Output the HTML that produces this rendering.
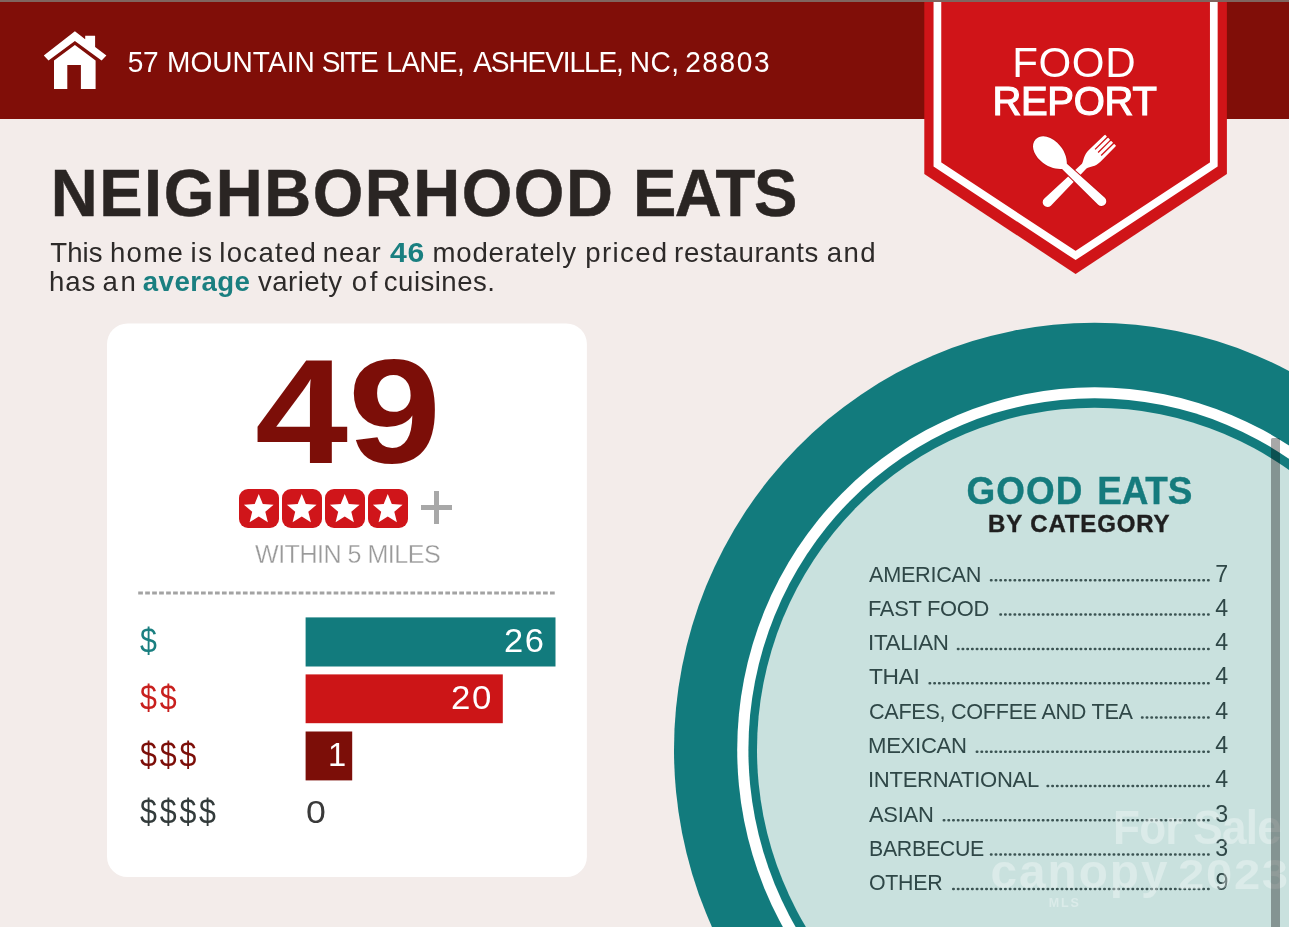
<!DOCTYPE html>
<html lang="en">
<head>
<meta charset="utf-8">
<title>Neighborhood Eats - Food Report</title>
<style>
*{margin:0;padding:0;box-sizing:border-box}
html,body{width:1289px;height:927px;overflow:hidden;background:#f3ecea}
body{font-family:"Liberation Sans",Arial,Helvetica,sans-serif;position:relative;color:#2b2624}
.abs{position:absolute;white-space:nowrap;line-height:1;transform-origin:0 50%}
svg{position:absolute;overflow:visible}
#topline{position:absolute;left:0;top:0;width:1289px;height:2px;background:#80655f}
#header{position:absolute;left:0;top:2px;width:1289px;height:116.7px;background:#800e08}
#addr{color:#fff}
#title{font-weight:bold;color:#2a2523;-webkit-text-stroke:0.5px #2a2523}
.para{color:#2d2a29}
.para b{color:#1a7f80}
#score{font-weight:bold;color:#7c0e08}
.star{position:absolute;top:489px;width:39.5px;height:38.7px;border-radius:9px;background:#d0151a}
.star svg{left:0;top:0}
#plus{position:absolute;left:420.8px;top:491.4px;width:31.7px;height:33px}
#plus:before{content:"";position:absolute;left:0;top:14px;width:31.7px;height:4.3px;background:#a8a8a8}
#plus:after{content:"";position:absolute;left:13.6px;top:0;width:4.5px;height:33px;background:#a8a8a8}
#within{color:#9a9a9a;-webkit-text-stroke:0.3px #fff}

.bn{color:#fff}
#scroll{position:absolute;left:1271px;top:438px;width:9px;height:500px;border-radius:1.5px 1.5px 0 0;background:rgba(0,0,0,.34)}
.cat{color:#2f4747}
.num{color:#2f4747}
#ge{font-weight:bold;color:#157b7d;-webkit-text-stroke:0.4px #157b7d}
#bc{font-weight:bold;color:#1f1f1f;-webkit-text-stroke:0.4px #1f1f1f}
.wm{color:rgba(255,255,255,.33);font-weight:bold}
#food{color:#fff}
#report{color:#fff;-webkit-text-stroke:1.2px #fff}
#addr{left:126.8px;top:48.0px;font-size:29.24px;letter-spacing:-0.30px;transform:scaleX(0.960)}
#title{left:54.3px;top:161.0px;font-size:65.90px;letter-spacing:-0.30px;transform:scaleX(0.986)}
#p1{left:50.2px;top:238.8px;font-size:27.60px;letter-spacing:0.45px}
#p2{left:49.0px;top:267.5px;font-size:27.60px;letter-spacing:0.22px}
#food{left:1012.2px;top:41.8px;font-size:42.09px;letter-spacing:0.61px}
#report{left:992.4px;top:80.9px;font-size:40.00px;letter-spacing:-0.30px;transform:scaleX(1.000)}
#score{left:254.8px;top:337.8px;font-size:148.31px;letter-spacing:0.00px;transform:scaleX(1.129)}
#within{left:255.0px;top:542.1px;font-size:25.07px;letter-spacing:-0.50px}
#l1{left:139.8px;top:622.6px;font-size:35.98px;letter-spacing:3.30px;transform:scaleX(0.845)}
#l2{left:139.8px;top:679.6px;font-size:35.98px;letter-spacing:3.30px;transform:scaleX(0.845)}
#l3{left:139.8px;top:736.6px;font-size:35.98px;letter-spacing:3.30px;transform:scaleX(0.845)}
#l4{left:139.8px;top:793.6px;font-size:35.98px;letter-spacing:3.30px;transform:scaleX(0.845)}
#n26{left:504.4px;top:624.9px;font-size:32.31px;letter-spacing:1.50px;transform:scaleX(1.068)}
#n20{left:451.0px;top:681.9px;font-size:32.31px;letter-spacing:1.50px;transform:scaleX(1.079)}
#n1{left:328.1px;top:739.4px;font-size:32.66px;letter-spacing:0.00px}
#n0{left:306.4px;top:797.0px;font-size:31.96px;letter-spacing:0.00px;transform:scaleX(1.118)}
#ge{left:966.2px;top:472.2px;font-size:38.63px;letter-spacing:-0.34px;transform:scaleX(0.955)}
#bc{left:988.1px;top:512.2px;font-size:24.01px;letter-spacing:0.85px}
#c1{left:869.4px;top:564.3px;font-size:22.40px;letter-spacing:-0.30px;transform:scaleX(0.968)}
#m1{left:1215.3px;top:563.3px;font-size:23.20px;letter-spacing:0.00px}
#c2{left:868.2px;top:598.1px;font-size:22.40px;letter-spacing:-0.30px;transform:scaleX(0.978)}
#m2{left:1215.3px;top:597.1px;font-size:23.20px;letter-spacing:0.00px}
#c3{left:868.1px;top:631.9px;font-size:22.40px;letter-spacing:-0.30px;transform:scaleX(0.998)}
#m3{left:1215.3px;top:630.9px;font-size:23.20px;letter-spacing:0.00px}
#c4{left:868.9px;top:665.7px;font-size:22.40px;letter-spacing:-0.30px;transform:scaleX(1.016)}
#m4{left:1215.3px;top:664.7px;font-size:23.20px;letter-spacing:0.00px}
#c5{left:869.0px;top:701.4px;font-size:22.40px;letter-spacing:-0.30px;transform:scaleX(0.965)}
#m5{left:1215.3px;top:700.4px;font-size:23.20px;letter-spacing:0.00px}
#c6{left:868.2px;top:735.2px;font-size:22.40px;letter-spacing:-0.30px;transform:scaleX(0.988)}
#m6{left:1215.3px;top:734.2px;font-size:23.20px;letter-spacing:0.00px}
#c7{left:867.6px;top:769.0px;font-size:22.40px;letter-spacing:-0.30px;transform:scaleX(0.985)}
#m7{left:1215.3px;top:768.0px;font-size:23.20px;letter-spacing:0.00px}
#c8{left:869.3px;top:803.7px;font-size:22.40px;letter-spacing:-0.30px;transform:scaleX(0.981)}
#m8{left:1215.3px;top:802.7px;font-size:23.20px;letter-spacing:0.00px}
#c9{left:868.5px;top:837.5px;font-size:22.40px;letter-spacing:-0.30px;transform:scaleX(0.952)}
#m9{left:1215.3px;top:836.5px;font-size:23.20px;letter-spacing:0.00px}
#c10{left:869.0px;top:872.3px;font-size:22.40px;letter-spacing:-0.30px;transform:scaleX(0.953)}
#m10{left:1215.5px;top:871.3px;font-size:23.20px;letter-spacing:0.00px}
#w1{left:1112.7px;top:804.4px;font-size:48.00px;letter-spacing:-0.80px;transform:scaleX(0.918)}
#w2{left:990.5px;top:848.0px;font-size:47.70px;letter-spacing:2.00px}
#w4{left:1177.8px;top:854.0px;font-size:42.00px;letter-spacing:1.50px;transform:scaleX(1.124)}
#w3{left:1048.7px;top:896.8px;font-size:12.50px;letter-spacing:1.88px}
.wl{left:0 !important;letter-spacing:0 !important}
.wl span{position:absolute;top:0}
</style>
</head>
<body>
<div id="topline"></div>
<div id="header"></div>

<svg id="house" width="70" height="64" viewBox="0 0 70 64" style="left:40px;top:28px">
  <path fill="#fff" d="M34.9 3.2 L45.2 11.3 V7.8 H55.1 V19 L66.4 27.6 L61.6 32.5 L34.9 13.1 L8.5 32.5 L3.8 27.6 Z"/>
  <path fill="#fff" d="M34.9 17 L55.6 32.5 V61 H40.9 V36.9 H27.3 V61 H14 V32.5 Z"/>
</svg>
<div id="addr" class="abs wl"><span style="left:133.0px;letter-spacing:-0.21px">57</span> <span style="left:174.0px;letter-spacing:0.02px">MOUNTAIN</span> <span style="left:335.1px;letter-spacing:-1.87px">SITE</span> <span style="left:402.4px;letter-spacing:-0.70px">LANE,</span> <span style="left:492.9px;letter-spacing:-1.16px">ASHEVILLE,</span> <span style="left:655.9px;letter-spacing:0.56px">NC,</span> <span style="left:713.7px;letter-spacing:1.69px">28803</span></div>

<div id="title" class="abs wl"><span style="left:51.4px;letter-spacing:1.58px">NEIGHBORHOOD</span> <span style="left:641.9px;letter-spacing:-1.40px">EATS</span></div>
<div id="p1" class="abs wl para"><span style="left:50.3px;letter-spacing:0.02px">This</span> <span style="left:109.9px;letter-spacing:1.33px">home</span> <span style="left:190.6px;letter-spacing:1.52px">is</span> <span style="left:219.3px;letter-spacing:1.27px">located</span> <span style="left:322.7px;letter-spacing:0.91px">near</span> <span style="left:389.6px;letter-spacing:0.6px;transform:scaleX(1.093);transform-origin:0 50%"><b>46</b></span> <span style="left:432.5px;letter-spacing:0.78px">moderately</span> <span style="left:585.3px;letter-spacing:1.35px">priced</span> <span style="left:674.1px;letter-spacing:0.61px">restaurants</span> <span style="left:826.8px;letter-spacing:1.34px">and</span></div>
<div id="p2" class="abs wl para"><span style="left:49.0px;letter-spacing:0.93px">has</span> <span style="left:102.6px;letter-spacing:2.51px">an</span> <span style="left:142.8px;letter-spacing:0.47px"><b>average</b></span> <span style="left:258.0px;letter-spacing:0.45px">variety</span> <span style="left:351.7px;letter-spacing:2.76px">of</span> <span style="left:383.8px;letter-spacing:0.47px">cuisines.</span></div>

<!-- ribbon -->
<svg id="ribbon" width="320" height="280" viewBox="0 0 320 280" style="left:916px;top:0">
  <path fill="#d01418" d="M8.3 2 H310.9 V174 L159.6 274 L8.3 174 Z"/>
  <path fill="none" stroke="#fff" stroke-width="7.7" stroke-linejoin="miter" d="M21.4 2 V164.5 L159.6 255.5 L297.8 164.5 V2"/>
  <g transform="translate(194.6 140.2) rotate(45.5)"><path fill="#fff" d="M-8.00 1 L-7.70 0 L-5.30 0 L-5.00 1 L-5.00 17.5 L-3.67 17.5 L-3.67 1 L-3.37 0 L-0.97 0 L-0.67 1 L-0.67 17.5 L0.66 17.5 L0.66 1 L0.96 0 L3.36 0 L3.66 1 L3.66 17.5 L4.99 17.5 L4.99 1 L5.29 0 L7.69 0 L7.99 1 L8.3 22 C8.3 30 4.5 33 3.2 37 L4.8 88.5 A4.8 4.8 0 0 1 -4.8 88.5 L-3.2 37 C-4.5 33 -8.3 30 -8.3 22 Z"/></g>
  <g transform="translate(119.7 139.3) rotate(-46.7)"><path fill="#fff" stroke="#c41216" stroke-width="2" paint-order="stroke" d="M0 0 C7.5 0 12.3 8 12.3 18 C12.3 28 8 35.5 3.5 39.5 L4.8 90.4 A4.8 4.8 0 0 1 -4.8 90.4 L-3.5 39.5 C-8 35.5 -12.3 28 -12.3 18 C-12.3 8 -7.5 0 0 0 Z"/></g>
</svg>
<div id="food" class="abs">FOOD</div>
<div id="report" class="abs">REPORT</div>

<!-- score card -->
<svg id="card" width="1289" height="927" viewBox="0 0 1289 927" style="left:0;top:0"><rect x="107" y="323.5" width="479.9" height="553.6" rx="20.5" fill="#fff"/></svg>
<div id="score" class="abs">49</div>
<div class="star" style="left:239.3px"><svg width="39.5" height="38.7" viewBox="0 0 39.5 38.7"><path fill="#fff" d="M19.75 5.00 L23.81 15.02 L34.59 15.78 L26.31 22.73 L28.92 33.22 L19.75 27.50 L10.58 33.22 L13.19 22.73 L4.91 15.78 L15.69 15.02 Z"/></svg></div>
<div class="star" style="left:282.1px"><svg width="39.5" height="38.7" viewBox="0 0 39.5 38.7"><path fill="#fff" d="M19.75 5.00 L23.81 15.02 L34.59 15.78 L26.31 22.73 L28.92 33.22 L19.75 27.50 L10.58 33.22 L13.19 22.73 L4.91 15.78 L15.69 15.02 Z"/></svg></div>
<div class="star" style="left:325.3px"><svg width="39.5" height="38.7" viewBox="0 0 39.5 38.7"><path fill="#fff" d="M19.75 5.00 L23.81 15.02 L34.59 15.78 L26.31 22.73 L28.92 33.22 L19.75 27.50 L10.58 33.22 L13.19 22.73 L4.91 15.78 L15.69 15.02 Z"/></svg></div>
<div class="star" style="left:368.2px"><svg width="39.5" height="38.7" viewBox="0 0 39.5 38.7"><path fill="#fff" d="M19.75 5.00 L23.81 15.02 L34.59 15.78 L26.31 22.73 L28.92 33.22 L19.75 27.50 L10.58 33.22 L13.19 22.73 L4.91 15.78 L15.69 15.02 Z"/></svg></div>
<div id="plus"></div>
<div id="within" class="abs">WITHIN 5 MILES</div>
<svg id="dash" width="1289" height="927" viewBox="0 0 1289 927" style="left:0;top:0"><line x1="138.2" y1="593.05" x2="556" y2="593.05" stroke="#a3a3a3" stroke-width="2.9" stroke-dasharray="4.7 2.28"/></svg>

<div id="l1" class="abs lbl" style="color:#1a7f80">$</div>
<div id="l2" class="abs lbl" style="color:#c8201e">$$</div>
<div id="l3" class="abs lbl" style="color:#7c0e08">$$$</div>
<div id="l4" class="abs lbl" style="color:#333b3b">$$$$</div>
<svg id="bars" width="1289" height="927" viewBox="0 0 1289 927" style="left:0;top:0">
  <rect x="305.6" y="617.4" width="249.9" height="49.1" fill="#127b7d"/>
  <rect x="305.6" y="674.4" width="197.2" height="48.8" fill="#cc1517"/>
  <rect x="305.6" y="731.5" width="46.6" height="48.9" fill="#7c0e08"/>
</svg>
<div id="n26" class="abs bn">26</div>
<div id="n20" class="abs bn">20</div>
<div id="n1" class="abs bn">1</div>
<div id="n0" class="abs bn" style="color:#3a3a3a">0</div>

<!-- plate -->
<svg id="plate" width="1289" height="927" viewBox="0 0 1289 927" style="left:0;top:0">
  <ellipse cx="1094.6" cy="749.7" rx="420.6" ry="427" fill="#127b7d"/>
  <ellipse cx="1094.6" cy="749.7" rx="357.4" ry="362.4" fill="#fff"/>
  <ellipse cx="1094.6" cy="749.7" rx="346.2" ry="351.5" fill="#127b7d"/>
  <ellipse cx="1094.6" cy="749.7" rx="337.6" ry="342" fill="#c9e1de"/>
  <g stroke="#2f4747" stroke-width="2.5" stroke-dasharray="0.5 4.22" stroke-linecap="round" fill="none" opacity="0.92">
    <line x1="1208.6" y1="580.3" x2="987.4" y2="580.3"/>
    <line x1="1208.6" y1="614.6" x2="996.8" y2="614.6"/>
    <line x1="1208.6" y1="648.9" x2="955.1" y2="648.9"/>
    <line x1="1208.6" y1="683.2" x2="926.1" y2="683.2"/>
    <line x1="1208.6" y1="717.5" x2="1138.8" y2="717.5"/>
    <line x1="1208.6" y1="751.8" x2="973.2" y2="751.8"/>
    <line x1="1208.6" y1="786.0" x2="1045.1" y2="786.0"/>
    <line x1="1208.6" y1="820.3" x2="940.3" y2="820.3"/>
    <line x1="1208.6" y1="854.6" x2="989.2" y2="854.6"/>
    <line x1="1208.6" y1="888.9" x2="950.1" y2="888.9"/>
  </g>
</svg>
<div id="ge" class="abs wl"><span style="left:1012.0px;letter-spacing:1.14px">GOOD</span> <span style="left:1148.9px;letter-spacing:-0.17px">EATS</span></div>
<div id="bc" class="abs">BY CATEGORY</div>

<div id="c1" class="abs cat">AMERICAN</div><div id="m1" class="abs num">7</div>
<div id="c2" class="abs cat">FAST FOOD</div><div id="m2" class="abs num">4</div>
<div id="c3" class="abs cat">ITALIAN</div><div id="m3" class="abs num">4</div>
<div id="c4" class="abs cat">THAI</div><div id="m4" class="abs num">4</div>
<div id="c5" class="abs cat">CAFES, COFFEE AND TEA</div><div id="m5" class="abs num">4</div>
<div id="c6" class="abs cat">MEXICAN</div><div id="m6" class="abs num">4</div>
<div id="c7" class="abs cat">INTERNATIONAL</div><div id="m7" class="abs num">4</div>
<div id="c8" class="abs cat">ASIAN</div><div id="m8" class="abs num">3</div>
<div id="c9" class="abs cat">BARBECUE</div><div id="m9" class="abs num">3</div>
<div id="c10" class="abs cat">OTHER</div><div id="m10" class="abs num">9</div>

<!-- watermark -->
<div id="w1" class="abs wm">For Sale</div>
<div id="w2" class="abs wm">canopy</div>
<div id="w4" class="abs wm">2023</div>
<div id="w3" class="abs wm">MLS</div>
<div id="scroll"></div>
</body>
</html>
